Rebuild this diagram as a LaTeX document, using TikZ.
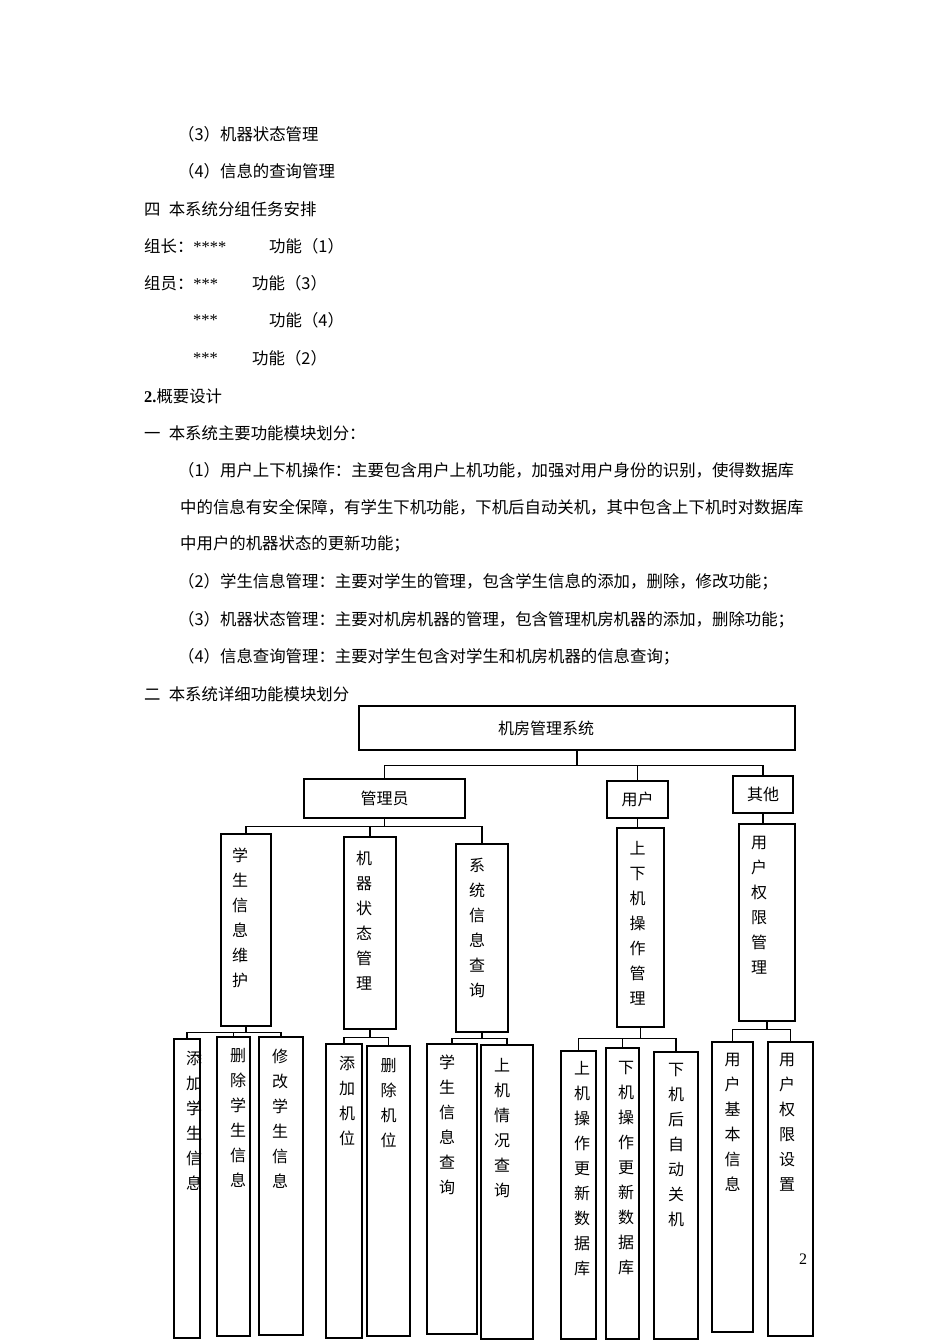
\documentclass[tikz,border=0pt]{standalone}
\usepackage{fontspec}
\setmainfont{Liberation Serif}
\newfontfamily\cjk{Noto Sans CJK SC}
\usetikzlibrary{positioning}
\tikzset{
	bodyline/.style={anchor=west, inner sep=0pt, font=\cjk\fontsize{16.4}{20}\selectfont},
	hbox/.style={draw, line width=1.1pt, inner sep=0pt, font=\cjk\fontsize{16}{20}\selectfont},
	boxlabel/.style={inner sep=0pt, font=\cjk\fontsize{16}{20}\selectfont},
	tallbox/.style={draw, line width=1.1pt, inner sep=0pt},
	talltext/.style={inner sep=0pt, align=center, font=\cjk\fontsize{16}{25}\selectfont},
	treelink/.style={line width=1.1pt},
}

\begin{document}
\begin{tikzpicture}[x=1pt, y=-1pt]
	\useasboundingbox (0,0) rectangle (950,1344);
	\fill[white] (0,0) rectangle (950,1344);
	% page text
	\node[bodyline] (ln1) at (178,134) {（3）机器状态管理};
	\node[bodyline] (ln2) at (178,171) {（4）信息的查询管理};
	\node[bodyline] (ln3) at (144,209) {四\hspace{0.5em}本系统分组任务安排};
	\node[bodyline] (ln4) at (144,246) {组长：{\rmfamily ****}};
	\node[bodyline] (ln4b) at (269,246) {功能（1）};
	\node[bodyline] (ln5) at (144,283) {组员：{\rmfamily ***}};
	\node[bodyline] (ln5b) at (252,283) {功能（3）};
	\node[bodyline] (ln6) at (193,320) {{\rmfamily ***}};
	\node[bodyline] (ln6b) at (269,320) {功能（4）};
	\node[bodyline] (ln7) at (193,358) {{\rmfamily ***}};
	\node[bodyline] (ln7b) at (252,358) {功能（2）};
	\node[bodyline] (ln8) at (144,396) {{\rmfamily\bfseries 2.}概要设计};
	\node[bodyline] (ln9) at (144,433) {一\hspace{0.5em}本系统主要功能模块划分：};
	\node[bodyline] (ln10) at (178,470) {（1）用户上下机操作：主要包含用户上机功能，加强对用户身份的识别，使得数据库};
	\node[bodyline] (ln11) at (180,507) {中的信息有安全保障，有学生下机功能，下机后自动关机，其中包含上下机时对数据库};
	\node[bodyline] (ln12) at (180,544) {中用户的机器状态的更新功能；};
	\node[bodyline] (ln13) at (178,582) {（2）学生信息管理：主要对学生的管理，包含学生信息的添加，删除，修改功能；};
	\node[bodyline] (ln14) at (178,620) {（3）机器状态管理：主要对机房机器的管理，包含管理机房机器的添加，删除功能；};
	\node[bodyline] (ln15) at (178,657) {（4）信息查询管理：主要对学生包含对学生和机房机器的信息查询；};
	\node[bodyline] (ln16) at (144,694) {二\hspace{0.5em}本系统详细功能模块划分};
	% top levels
	\node[hbox, minimum width=436pt, minimum height=44pt] (root) at (577,728) {};
	\node[boxlabel] (root-t) at ([xshift=-31pt]root.center) {机房管理系统};
	\node[hbox, minimum width=161pt, minimum height=39pt] (admin) at (384.5,798.5) {管理员};
	\node[hbox, minimum width=61pt, minimum height=37pt] (user) at (637.5,799.5) {用户};
	\node[hbox, minimum width=60pt, minimum height=37pt] (other) at (763,794.5) {其他};
	% second level
	\node[tallbox, minimum width=50pt, minimum height=192pt] (stuinfo) at (246,930) {};
	\node[talltext, below=14pt of stuinfo.north, xshift=-6pt] (stuinfo-t) {学\\生\\信\\息\\维\\护};
	\node[tallbox, minimum width=52pt, minimum height=192pt] (machine) at (370,933) {};
	\node[talltext, below=14pt of machine.north, xshift=-6pt] (machine-t) {机\\器\\状\\态\\管\\理};
	\node[tallbox, minimum width=52pt, minimum height=188pt] (sysquery) at (482,938) {};
	\node[talltext, below=15pt of sysquery.north, xshift=-5pt] (sysquery-t) {系\\统\\信\\息\\查\\询};
	\node[tallbox, minimum width=47pt, minimum height=199pt] (onoff) at (640.5,927.5) {};
	\node[talltext, below=14pt of onoff.north, xshift=-3pt] (onoff-t) {上\\下\\机\\操\\作\\管\\理};
	\node[tallbox, minimum width=56pt, minimum height=197pt] (perm) at (767,922.5) {};
	\node[talltext, below=13pt of perm.north, xshift=-8pt] (perm-t) {用\\户\\权\\限\\管\\理};
	% third level
	\node[tallbox, minimum width=26pt, minimum height=299pt] (addstu) at (187,1188.5) {};
	\node[talltext, below=13pt of addstu.north, xshift=7pt] (addstu-t) {添\\加\\学\\生\\信\\息};
	\node[tallbox, minimum width=33pt, minimum height=299pt] (delstu) at (233.5,1186.5) {};
	\node[talltext, below=12pt of delstu.north, xshift=4.5pt] (delstu-t) {删\\除\\学\\生\\信\\息};
	\node[tallbox, minimum width=44pt, minimum height=298pt] (modstu) at (281,1186) {};
	\node[talltext, below=12pt of modstu.north, xshift=-1pt] (modstu-t) {修\\改\\学\\生\\信\\息};
	\node[tallbox, minimum width=36pt, minimum height=294pt] (addpc) at (344,1191) {};
	\node[talltext, below=13pt of addpc.north, xshift=3pt] (addpc-t) {添\\加\\机\\位};
	\node[tallbox, minimum width=43pt, minimum height=290pt] (delpc) at (388.5,1191) {};
	\node[talltext, below=13pt of delpc.north] (delpc-t) {删\\除\\机\\位};
	\node[tallbox, minimum width=50pt, minimum height=290pt] (stuquery) at (452,1189) {};
	\node[talltext, below=11pt of stuquery.north, xshift=-5pt] (stuquery-t) {学\\生\\信\\息\\查\\询};
	\node[tallbox, minimum width=52pt, minimum height=294pt] (usequery) at (507,1192) {};
	\node[talltext, below=14pt of usequery.north, xshift=-5pt] (usequery-t) {上\\机\\情\\况\\查\\询};
	\node[tallbox, minimum width=35pt, minimum height=288pt] (upon) at (578.5,1195) {};
	\node[talltext, below=11pt of upon.north, xshift=3.5pt] (upon-t) {上\\机\\操\\作\\更\\新\\数\\据\\库};
	\node[tallbox, minimum width=33pt, minimum height=291pt] (upoff) at (622.5,1193.5) {};
	\node[talltext, below=14pt of upoff.north, xshift=3.5pt] (upoff-t) {下\\机\\操\\作\\更\\新\\数\\据\\库};
	\node[tallbox, minimum width=44pt, minimum height=287pt] (autooff) at (676,1195.5) {};
	\node[talltext, below=12pt of autooff.north] (autooff-t) {下\\机\\后\\自\\动\\关\\机};
	\node[tallbox, minimum width=41pt, minimum height=290pt] (userbasic) at (732.5,1187) {};
	\node[talltext, below=12pt of userbasic.north] (userbasic-t) {用\\户\\基\\本\\信\\息};
	\node[tallbox, minimum width=45pt, minimum height=294pt] (userperm) at (790.5,1189) {};
	\node[talltext, below=12pt of userperm.north, xshift=-3.5pt] (userperm-t) {用\\户\\权\\限\\设\\置};
	% connectors
	\draw[treelink] (root.south) -- ++(0,15) -| (admin.north);
	\draw[treelink] (root.south) -- ++(0,15) -| (user.north);
	\draw[treelink] (root.south) -- ++(0,15) -| (other.north);
	\draw[treelink] (admin.south) -- ++(0,8) -| (stuinfo.north);
	\draw[treelink] (admin.south) -- ++(0,8) -| (machine.north);
	\draw[treelink] (admin.south) -- ++(0,8) -| (sysquery.north);
	\draw[treelink] (user.south) -- (user.south |- onoff.north);
	\draw[treelink] (other.south) -- (other.south |- perm.north);
	\draw[treelink] (stuinfo.south) -- ++(0,6) -| (addstu.north);
	\draw[treelink] (stuinfo.south) -- ++(0,6) -| (delstu.north);
	\draw[treelink] (stuinfo.south) -- ++(0,6) -| (modstu.north);
	\draw[treelink] (machine.south) -- ++(0,8) -| (addpc.north);
	\draw[treelink] (machine.south) -- ++(0,8) -| (delpc.north);
	\draw[treelink] (sysquery.south) -- ++(0,6) -| (stuquery.north);
	\draw[treelink] (sysquery.south) -- ++(0,6) -| (usequery.north);
	\draw[treelink] (onoff.south) -- ++(0,11) -| (upon.north);
	\draw[treelink] (onoff.south) -- ++(0,11) -| (upoff.north);
	\draw[treelink] (onoff.south) -- ++(0,11) -| (autooff.north);
	\draw[treelink] (perm.south) -- ++(0,8) -| (userbasic.north);
	\draw[treelink] (perm.south) -- ++(0,8) -| (userperm.north);
	% page number
	\node[inner sep=0pt, font=\fontsize{16}{20}\selectfont] (pagenum) at (803,1259) {2};
\end{tikzpicture}
\end{document}
